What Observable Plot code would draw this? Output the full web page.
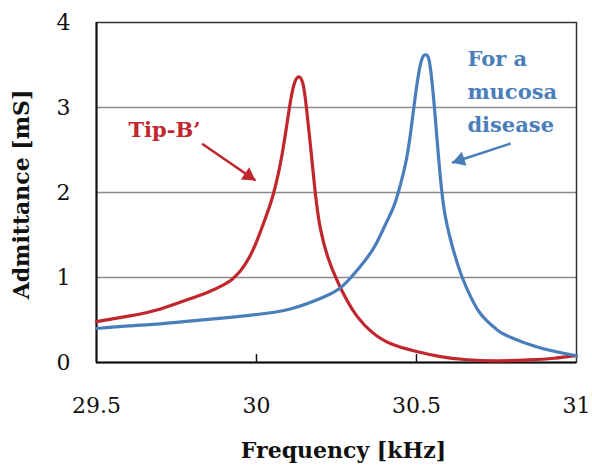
<!DOCTYPE html>
<html>
<head>
<meta charset="utf-8">
<script src="https://cdn.jsdelivr.net/npm/d3@7"></script>
<script src="https://cdn.jsdelivr.net/npm/@observablehq/plot@0.6"></script>
<style>
  html, body { margin: 0; padding: 0; background: #fff; }
</style>
</head>
<body>
<div id="chart"></div>
<script>
// Tip-B' series
const redFreq = [29.5, 29.6, 29.7, 29.8, 29.85, 29.9, 29.924, 29.95, 29.975, 30.0, 30.03, 30.054, 30.08, 30.103, 30.118, 30.132, 30.145, 30.156, 30.17, 30.183, 30.192, 30.2, 30.222, 30.25, 30.2625, 30.283, 30.315, 30.36, 30.42, 30.5, 30.575, 30.65, 30.75, 30.85, 30.93, 31.0];
const redAdm  = [0.48, 0.545, 0.63, 0.76, 0.83, 0.92, 0.98, 1.08, 1.22, 1.42, 1.72, 2.0, 2.45, 3.0, 3.28, 3.36, 3.28, 3.0, 2.5, 2.02, 1.75, 1.57, 1.25, 0.98, 0.88, 0.73, 0.54, 0.36, 0.22, 0.13, 0.07, 0.035, 0.02, 0.03, 0.05, 0.08];
// "For a mucosa disease" series
const blueFreq = [29.5, 29.6, 29.7, 29.8, 29.9, 30.0, 30.106, 30.21, 30.2625, 30.295, 30.335, 30.37, 30.4, 30.425, 30.443, 30.47, 30.49, 30.505, 30.518, 30.53, 30.542, 30.556, 30.567, 30.578, 30.59, 30.606, 30.62, 30.643, 30.671, 30.695, 30.72, 30.75, 30.78, 30.88, 31.0];
const blueAdm  = [0.40, 0.43, 0.455, 0.49, 0.525, 0.565, 0.63, 0.77, 0.88, 1.0, 1.18, 1.37, 1.6, 1.8, 2.0, 2.42, 2.95, 3.36, 3.58, 3.62, 3.5, 3.0, 2.5, 2.05, 1.72, 1.45, 1.26, 1.0, 0.76, 0.6, 0.49, 0.39, 0.32, 0.18, 0.08];

const xTicks = [29.5, 30, 30.5, 31];
const yTicks = [0, 1, 2, 3, 4];
const gridValues = [1, 2, 3];
const innerTicks = [30, 30.5];

const redLabel = "Tip-B’";
const blueLabel = "For a\nmucosa\ndisease";
const xTitle = "Frequency [kHz]";
const yTitle = "Admittance [mS]";

const RED = "#c0272d";
const BLUE = "#4a7ebb";
const FONT = "DejaVu Serif";

const red = redFreq.map((f, i) => ({f, v: redAdm[i]}));
const blue = blueFreq.map((f, i) => ({f, v: blueAdm[i]}));

const redArrow = [{x1: 29.83, y1: 2.573, x2: 29.997, y2: 2.141}];
const blueArrow = [{x1: 30.794, y1: 2.576, x2: 30.611, y2: 2.35}];

const chart = Plot.plot({
  width: 592,
  height: 466,
  marginLeft: 96,
  marginRight: 16,
  marginTop: 22,
  marginBottom: 104,
  style: {fontFamily: FONT, fontSize: "22px", color: "#111", background: "#fff"},
  x: {domain: [29.5, 31], axis: null},
  y: {domain: [0, 4], axis: null},
  marks: [
    Plot.ruleY(gridValues, {stroke: "#8a8a8a", strokeWidth: 1.5}),
    Plot.frame({stroke: "#333", strokeWidth: 1.5}),
    Plot.ruleX([29.5], {stroke: "#111", strokeWidth: 2}),
    Plot.ruleY([0], {stroke: "#111", strokeWidth: 2}),
    Plot.ruleX(innerTicks, {y1: 0, y2: 0, insetTop: -8, stroke: "#111", strokeWidth: 1.5}),
    Plot.axisX({ticks: xTicks, tickSize: 0, tickPadding: 35, tickFormat: d => String(d), fontSize: 22, fontFamily: FONT}),
    Plot.axisY({ticks: yTicks, tickSize: 0, tickPadding: 26, tickFormat: d => String(d), fontSize: 22, fontFamily: FONT}),
    Plot.line(red, {x: "f", y: "v", stroke: RED, strokeWidth: 3.2, curve: "natural"}),
    Plot.line(blue, {x: "f", y: "v", stroke: BLUE, strokeWidth: 3.2, curve: "natural"}),
    Plot.link(redArrow, {x1: "x1", y1: "y1", x2: "x2", y2: "y2", stroke: RED, strokeWidth: 2.5}),
    Plot.dot(redArrow, {x: "x2", y: "y2", symbol: "triangle", r: 5.5, fill: RED, rotate: 124.5, dx: -7, dy: -4.8}),
    Plot.link(blueArrow, {x1: "x1", y1: "y1", x2: "x2", y2: "y2", stroke: BLUE, strokeWidth: 2.5}),
    Plot.dot(blueArrow, {x: "x2", y: "y2", symbol: "triangle", r: 5.5, fill: BLUE, rotate: 252, dx: 8.1, dy: -2.6}),
    Plot.text([redLabel], {x: 29.7125, y: 2.73, text: d => d, fill: RED, fontWeight: "bold", fontSize: 21, fontFamily: FONT}),
    Plot.text([blueLabel], {x: 30.659, y: 3.22, text: d => d, fill: BLUE, fontWeight: "bold", fontSize: 21, textAnchor: "start", lineHeight: 1.57, fontFamily: FONT}),
    Plot.text([xTitle], {frameAnchor: "bottom", lineAnchor: "middle", textAnchor: "middle", dy: 88, dx: 7, text: d => d, fontWeight: "bold", fontSize: 22, fill: "#111", fontFamily: FONT}),
    Plot.text([yTitle], {frameAnchor: "left", textAnchor: "middle", lineAnchor: "middle", dx: -74.5, dy: 2, rotate: -90, text: d => d, fontWeight: "bold", fontSize: 22, fill: "#111", fontFamily: FONT})
  ]
});
document.getElementById("chart").appendChild(chart);
</script>
</body>
</html>
